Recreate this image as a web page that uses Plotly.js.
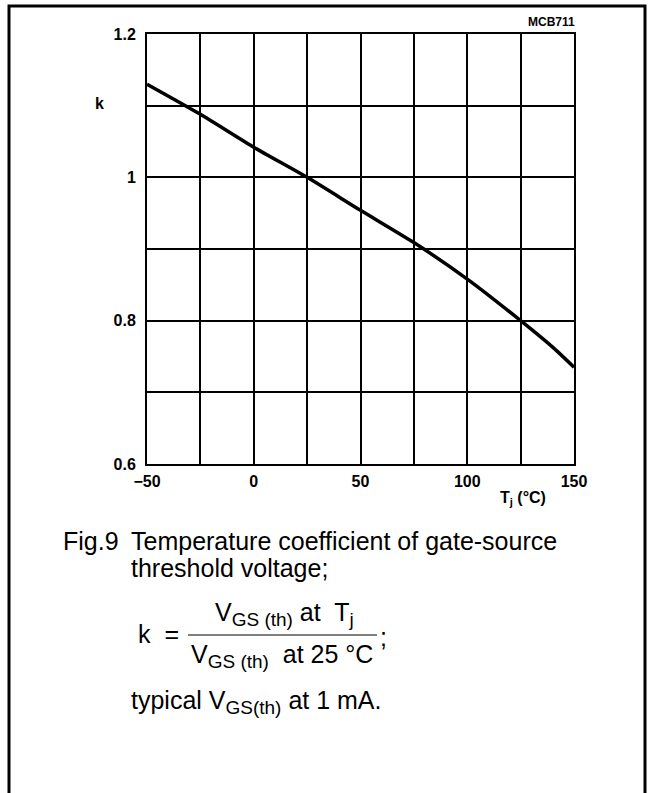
<!DOCTYPE html>
<html>
<head>
<meta charset="utf-8">
<script src="https://cdn.plot.ly/plotly-3.0.1.min.js"></script>
<style>
html,body{margin:0;padding:0;background:#fff;}
#chart{width:650px;height:793px;}
</style>
</head>
<body>
<div id="chart"></div>
<script>
// Data
const tempC = [-50, -25, 0, 25, 50, 75, 100, 125, 140, 150];
const kValues = [1.130, 1.088, 1.042, 1.000, 0.954, 0.909, 0.858, 0.800, 0.763, 0.735];
const xTickVals = [-50, 0, 50, 100, 150];
const xTickText = ['\u221250', '0', '50', '100', '150'];
const yTickVals = [0.6, 0.8, 1.0, 1.2];
const yTickText = ['0.6', '0.8', '1', '1.2'];

// layout helpers (pixel -> paper)
const L = 147, R = 574, T = 34, B = 464;
const X = px => (px - L) / (R - L);
const Y = py => (B - py) / (B - T);

const FAM = 'Liberation Sans, Arial, sans-serif';
const capFont = {family: FAM, size: 25, color: '#000'};
const boldFont = {family: FAM, size: 16, color: '#000', weight: 'bold'};
const sub = s => '<sub><span style="font-size:19px">' + s + '</span></sub>';

const trace = {
  x: tempC, y: kValues, type: 'scatter', mode: 'lines',
  line: {color: '#000', width: 3.5, shape: 'spline', smoothing: 0.6},
  hoverinfo: 'none', showlegend: false
};

function ann(text, px, py, xanchor, font, extra) {
  return Object.assign({text: text, x: X(px), y: Y(py), xref: 'paper', yref: 'paper',
    xanchor: xanchor, yanchor: 'middle', showarrow: false, font: font}, extra || {});
}

const layout = {
  width: 650, height: 793, autosize: false,
  margin: {l: L, r: 650 - R, t: T, b: 793 - B, pad: 0},
  paper_bgcolor: '#fff', plot_bgcolor: '#fff',
  showlegend: false,
  xaxis: {
    range: [-50, 150], tickmode: 'array', tickvals: xTickVals, ticktext: xTickText,
    showgrid: true, gridcolor: '#000', gridwidth: 2,
    minor: {dtick: 25, tick0: -50, showgrid: true, gridcolor: '#000', gridwidth: 2, ticks: ''},
    showline: true, linecolor: '#000', linewidth: 2, mirror: true,
    ticks: '', ticklabelstandoff: 2, tickfont: boldFont, zeroline: false, fixedrange: true
  },
  yaxis: {
    range: [0.6, 1.2], tickmode: 'array', tickvals: yTickVals, ticktext: yTickText,
    showgrid: true, gridcolor: '#000', gridwidth: 2,
    minor: {dtick: 0.1, tick0: 0.6, showgrid: true, gridcolor: '#000', gridwidth: 2, ticks: ''},
    showline: true, linecolor: '#000', linewidth: 2, mirror: true,
    ticks: '', ticklabelstandoff: 6, tickfont: boldFont, zeroline: false, fixedrange: true
  },
  shapes: [
    {type: 'path', xref: 'paper', yref: 'paper',
     path: `M ${X(9)} ${Y(800)} L ${X(9)} ${Y(6)} L ${X(645)} ${Y(6)} L ${X(645)} ${Y(800)}`,
     line: {color: '#000', width: 3}},
    {type: 'line', xref: 'paper', yref: 'paper', x0: X(188), x1: X(377), y0: Y(635), y1: Y(635),
     line: {color: '#000', width: 1}}
  ],
  annotations: [
    ann('k', 99, 104, 'center', boldFont),
    ann('T<sub>j</sub> (\u00B0C)', 523, 498, 'center', boldFont),
    ann('MCB711', 577, 22, 'right', {family: FAM, size: 12, color: '#000', weight: 'bold'}),
    ann('Fig.9', 61, 541, 'left', capFont),
    ann('Temperature coefficient of gate-source', 129, 541, 'left', capFont),
    ann('threshold voltage;', 129, 568, 'left', capFont),
    ann('k  =', 136, 634, 'left', capFont),
    ann('V' + sub('GS (th)') + ' at  T' + sub('j'), 284, 614, 'center', capFont),
    ann('V' + sub('GS (th)') + '  at 25 \u00B0C', 282, 656, 'center', capFont),
    ann(';', 378, 637, 'left', capFont),
    ann('typical V' + sub('GS(th)') + ' at 1 mA.', 129, 702, 'left', capFont)
  ]
};

Plotly.newPlot('chart', [trace], layout, {staticPlot: true, displayModeBar: false});
</script>
</body>
</html>
